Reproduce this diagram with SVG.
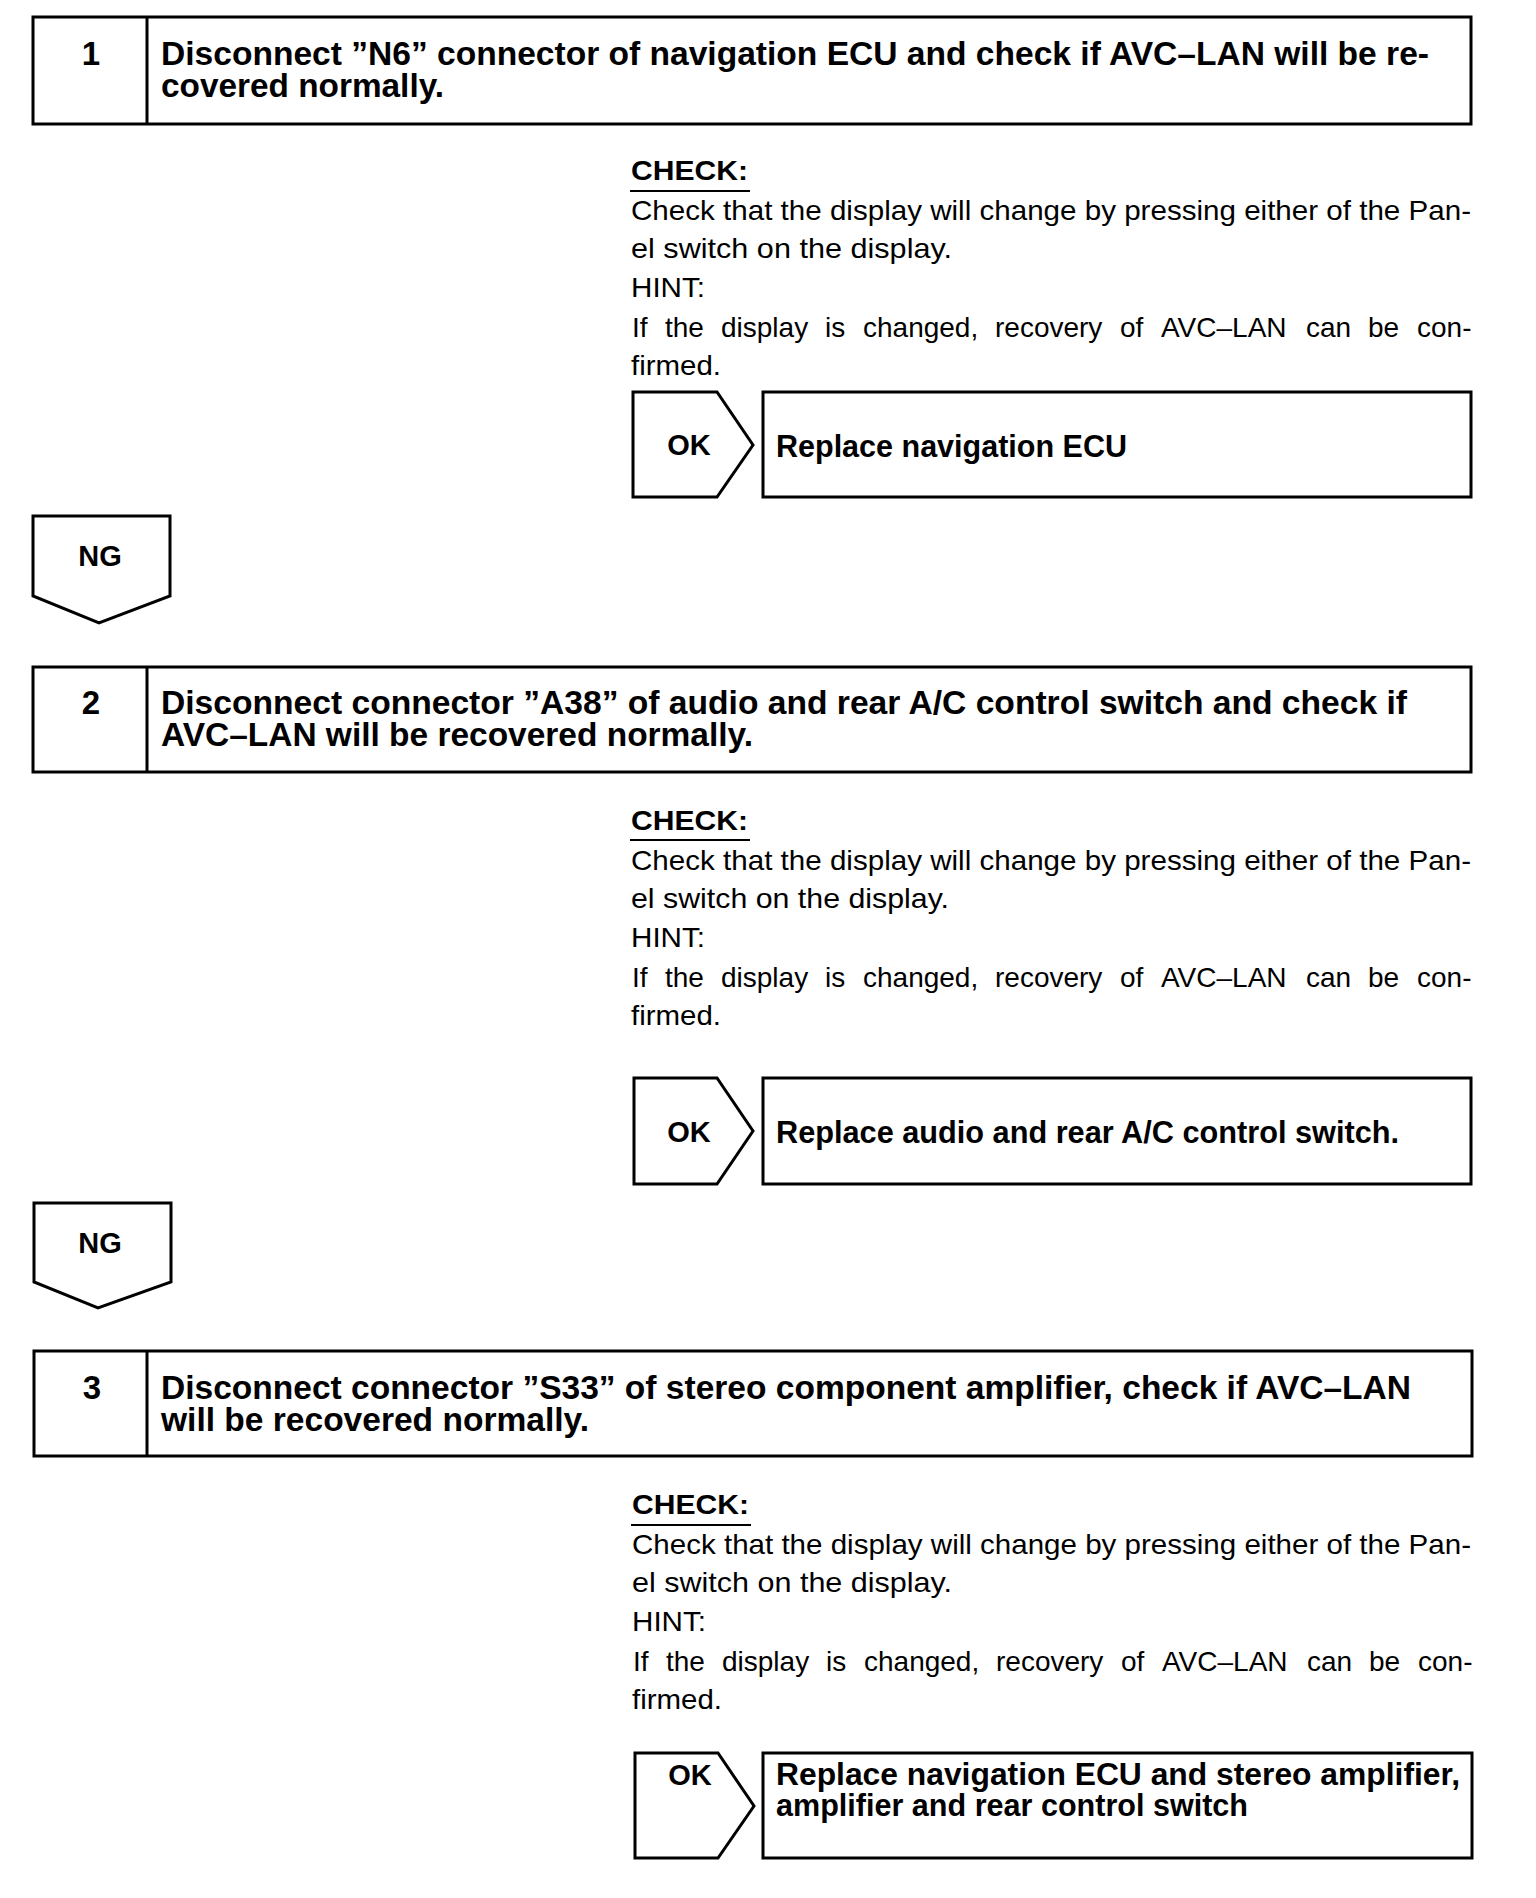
<svg xmlns="http://www.w3.org/2000/svg" width="1536" height="1898" viewBox="0 0 1536 1898">
<style>
.box{fill:#fff;stroke:#000;stroke-width:3}
.ln{stroke:#000;stroke-width:3}
.ul{stroke:#000;stroke-width:2}
.hd{font-family:"Liberation Sans",Arial,sans-serif;font-weight:bold;font-size:34px;fill:#000}
.num{font-family:"Liberation Sans",Arial,sans-serif;font-weight:bold;font-size:33px;fill:#000;text-anchor:middle}
.bd{font-family:"Liberation Sans",Arial,sans-serif;font-size:28px;fill:#000}
.bb{font-family:"Liberation Sans",Arial,sans-serif;font-weight:bold;font-size:28px;fill:#000}
.rs{font-family:"Liberation Sans",Arial,sans-serif;font-weight:bold;font-size:31px;fill:#000}
.tag{font-family:"Liberation Sans",Arial,sans-serif;font-weight:bold;font-size:29px;fill:#000;text-anchor:middle}
</style>
<rect width="1536" height="1898" fill="#fff"/>

<!-- Step 1 -->
<g id="step1">
<rect class="box" x="33" y="17" width="1438" height="107"/>
<line class="ln" x1="147" y1="17" x2="147" y2="124"/>
<text class="num" x="91" y="65">1</text>
<text class="hd" x="161" y="65" textLength="1268" lengthAdjust="spacingAndGlyphs">Disconnect ”N6” connector of navigation ECU and check if AVC–LAN will be re-</text>
<text class="hd" x="161" y="97" textLength="283" lengthAdjust="spacingAndGlyphs">covered normally.</text>
</g>
<g id="check1">
<text class="bb" x="631" y="180" textLength="117" lengthAdjust="spacingAndGlyphs">CHECK:</text>
<line class="ul" x1="630" y1="191" x2="750" y2="191"/>
<text class="bd" x="631" y="220" textLength="840" lengthAdjust="spacingAndGlyphs">Check that the display will change by pressing either of the Pan-</text>
<text class="bd" x="631" y="258" textLength="321" lengthAdjust="spacingAndGlyphs">el switch on the display.</text>
<text class="bd" x="631" y="297" textLength="74" lengthAdjust="spacingAndGlyphs">HINT:</text>
<text class="bd" y="337"><tspan x="632">If</tspan><tspan x="665">the</tspan><tspan x="721">display</tspan><tspan x="825">is</tspan><tspan x="863">changed,</tspan><tspan x="995">recovery</tspan><tspan x="1120">of</tspan><tspan x="1161">AVC–LAN</tspan><tspan x="1306">can</tspan><tspan x="1368">be</tspan><tspan x="1417">con-</tspan></text>
<text class="bd" x="631" y="375" textLength="90" lengthAdjust="spacingAndGlyphs">firmed.</text>
</g>
<g id="result1">
<rect class="box" x="763" y="392" width="708" height="105"/>
<text class="rs" x="776" y="457" textLength="351" lengthAdjust="spacingAndGlyphs">Replace navigation ECU</text>
</g>

<!-- Step 2 -->
<g id="step2">
<rect class="box" x="33" y="667" width="1438" height="105"/>
<line class="ln" x1="147" y1="667" x2="147" y2="772"/>
<text class="num" x="91" y="714">2</text>
<text class="hd" x="161" y="714" textLength="1246" lengthAdjust="spacingAndGlyphs">Disconnect connector ”A38” of audio and rear A/C control switch and check if</text>
<text class="hd" x="161" y="746" textLength="592" lengthAdjust="spacingAndGlyphs">AVC–LAN will be recovered normally.</text>
</g>
<g id="check2">
<text class="bb" x="631" y="830" textLength="117" lengthAdjust="spacingAndGlyphs">CHECK:</text>
<line class="ul" x1="630" y1="840" x2="750" y2="840"/>
<text class="bd" x="631" y="870" textLength="840" lengthAdjust="spacingAndGlyphs">Check that the display will change by pressing either of the Pan-</text>
<text class="bd" x="631" y="908" textLength="318" lengthAdjust="spacingAndGlyphs">el switch on the display.</text>
<text class="bd" x="631" y="947" textLength="74" lengthAdjust="spacingAndGlyphs">HINT:</text>
<text class="bd" y="987"><tspan x="632">If</tspan><tspan x="665">the</tspan><tspan x="721">display</tspan><tspan x="825">is</tspan><tspan x="863">changed,</tspan><tspan x="995">recovery</tspan><tspan x="1120">of</tspan><tspan x="1161">AVC–LAN</tspan><tspan x="1306">can</tspan><tspan x="1368">be</tspan><tspan x="1417">con-</tspan></text>
<text class="bd" x="631" y="1025" textLength="90" lengthAdjust="spacingAndGlyphs">firmed.</text>
</g>
<g id="result2">
<rect class="box" x="763" y="1078" width="708" height="106"/>
<text class="rs" x="776" y="1143" textLength="623" lengthAdjust="spacingAndGlyphs">Replace audio and rear A/C control switch.</text>
</g>

<!-- Step 3 -->
<g id="step3">
<rect class="box" x="34" y="1351" width="1438" height="105"/>
<line class="ln" x1="147" y1="1351" x2="147" y2="1456"/>
<text class="num" x="92" y="1399">3</text>
<text class="hd" x="161" y="1399" textLength="1250" lengthAdjust="spacingAndGlyphs">Disconnect connector ”S33” of stereo component amplifier, check if AVC–LAN</text>
<text class="hd" x="161" y="1431" textLength="428" lengthAdjust="spacingAndGlyphs">will be recovered normally.</text>
</g>
<g id="check3">
<text class="bb" x="632" y="1514" textLength="117" lengthAdjust="spacingAndGlyphs">CHECK:</text>
<line class="ul" x1="631" y1="1525" x2="751" y2="1525"/>
<text class="bd" x="632" y="1554" textLength="839" lengthAdjust="spacingAndGlyphs">Check that the display will change by pressing either of the Pan-</text>
<text class="bd" x="632" y="1592" textLength="320" lengthAdjust="spacingAndGlyphs">el switch on the display.</text>
<text class="bd" x="632" y="1631" textLength="74" lengthAdjust="spacingAndGlyphs">HINT:</text>
<text class="bd" y="1671"><tspan x="633">If</tspan><tspan x="666">the</tspan><tspan x="722">display</tspan><tspan x="826">is</tspan><tspan x="864">changed,</tspan><tspan x="996">recovery</tspan><tspan x="1121">of</tspan><tspan x="1162">AVC–LAN</tspan><tspan x="1307">can</tspan><tspan x="1369">be</tspan><tspan x="1418">con-</tspan></text>
<text class="bd" x="632" y="1709" textLength="90" lengthAdjust="spacingAndGlyphs">firmed.</text>
</g>
<g id="result3">
<rect class="box" x="763" y="1753" width="709" height="105"/>
<text class="rs" x="776" y="1785" textLength="684" lengthAdjust="spacingAndGlyphs">Replace navigation ECU and stereo amplifier,</text>
<text class="rs" x="776" y="1816" textLength="472" lengthAdjust="spacingAndGlyphs">amplifier and rear control switch</text>
</g>

<!-- Connectors: OK / NG arrows -->
<g id="connectors">
<g id="ok1">
<polygon class="box" points="633,392 717,392 753,445 717,497 633,497"/>
<text class="tag" x="689" y="455">OK</text>
</g>
<g id="ng1">
<polygon class="box" points="33,516 170,516 170,596 99,623 33,596"/>
<text class="tag" x="100" y="566">NG</text>
</g>
<g id="ok2">
<polygon class="box" points="634,1078 717,1078 753,1131 717,1184 634,1184"/>
<text class="tag" x="689" y="1142">OK</text>
</g>
<g id="ng2">
<polygon class="box" points="34,1203 171,1203 171,1282 98,1308 34,1282"/>
<text class="tag" x="100" y="1253">NG</text>
</g>
<g id="ok3">
<polygon class="box" points="635,1753 718,1753 754,1806 718,1858 635,1858"/>
<text class="tag" x="690" y="1785">OK</text>
</g>
</g>
</svg>
